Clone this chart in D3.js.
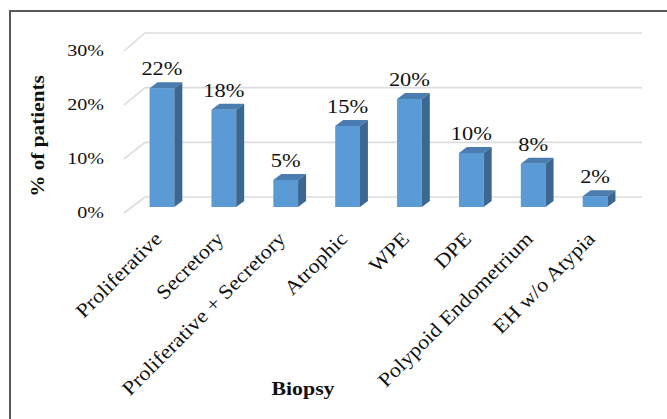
<!DOCTYPE html>
<html>
<head>
<meta charset="utf-8">
<script src="https://cdn.jsdelivr.net/npm/d3@7"></script>
<style>
  html, body { margin: 0; padding: 0; background: #fff; }
  svg { display: block; }
  text { font-family: "Liberation Serif", "Times New Roman", serif; fill: #111; }
</style>
</head>
<body>
<svg id="chart" width="667" height="419"></svg>
<script>
// Biopsy findings, share of patients
const categories = ["Proliferative", "Secretory", "Proliferative + Secretory", "Atrophic",
                    "WPE", "DPE", "Polypoid Endometrium", "EH w/o Atypia"];
const values = [0.22, 0.18, 0.05, 0.15, 0.20, 0.10, 0.08, 0.02];
const tickValues = [0, 0.10, 0.20, 0.30];
const yTitle = "% of patients";
const xTitle = "Biopsy";

const svg = d3.select("#chart");
const pct = d3.format(".0%");
const stretch = 1.18;            // glyphs are drawn slightly widened
const depth = { dx: 8, dy: -6 }; // bar extrusion

// Bars stand on the middle plane; the wall sits behind, the axis in front
const x = d3.scaleBand().domain(categories).range([131, 626])
  .paddingInner(0.6).paddingOuter(0.3);
const yBar = d3.scaleLinear().domain([0, 0.3]).range([207, 45]);
const yWall = d3.scaleLinear().domain([0, 0.3]).range([197, 33]);
const yFront = d3.scaleLinear().domain([0, 0.3]).range([213, 51]);
const wallLeft = 145, wallRight = 642, frontLeft = 124;

// Outer frame
svg.append("path")
  .attr("d", "M10,419 L10,11 L667,11")
  .attr("fill", "none").attr("stroke", "#5a5a5a").attr("stroke-width", 2);

// Back-wall gridlines and the floor-side diagonals
const grid = svg.append("g").attr("stroke", "#dcdcdc").attr("stroke-width", 1.6).attr("fill", "none");
grid.selectAll("line.back").data(tickValues).join("line")
  .attr("class", "back")
  .attr("x1", wallLeft).attr("x2", wallRight)
  .attr("y1", d => yWall(d)).attr("y2", d => yWall(d));
grid.selectAll("line.side").data(tickValues).join("line")
  .attr("class", "side")
  .attr("x1", wallLeft).attr("y1", d => yWall(d))
  .attr("x2", frontLeft).attr("y2", d => yFront(d));

// Value axis labels
const yAxis = d3.axisLeft(yFront).tickValues(tickValues).tickFormat(pct).tickSize(0).tickPadding(0);
const axisG = svg.append("g").attr("transform", "translate(104,-1.5)").call(yAxis);
axisG.select(".domain").remove();
axisG.selectAll("text")
  .attr("x", 0).attr("dy", null)
  .attr("dominant-baseline", "central")
  .attr("text-anchor", "end")
  .attr("transform", `scale(${stretch},1)`)
  .style("font-family", '"Liberation Serif", serif')
  .style("font-size", "17px").style("fill", "#111");

// 3D columns
const bars = svg.append("g").selectAll("g").data(values).join("g");
bars.each(function (v, i) {
  const g = d3.select(this);
  const x0 = x(categories[i]), w = x.bandwidth();
  const yt = yBar(v), yb = yBar(0);
  const { dx, dy } = depth;
  g.append("rect").attr("x", x0).attr("y", yt).attr("width", w).attr("height", yb - yt)
    .attr("fill", "#5b9bd5");
  g.append("path")
    .attr("d", `M${x0},${yt} L${x0 + dx},${yt + dy} L${x0 + w + dx},${yt + dy} L${x0 + w},${yt} Z`)
    .attr("fill", "#4a7cb0");
  g.append("path")
    .attr("d", `M${x0 + w},${yt} L${x0 + w + dx},${yt + dy} L${x0 + w + dx},${yb + dy} L${x0 + w},${yb} Z`)
    .attr("fill", "#3c6791");
});

// Value labels above each column
svg.append("g").selectAll("text").data(values).join("text")
  .attr("transform", (v, i) =>
    `translate(${x(categories[i]) + x.bandwidth() / 2},${yBar(v) - 20}) scale(${stretch},1)`)
  .attr("text-anchor", "middle")
  .attr("dominant-baseline", "central")
  .style("font-size", "19px")
  .text(v => pct(v));

// Category labels, rotated
svg.append("g").selectAll("text").data(categories).join("text")
  .attr("transform", d =>
    `translate(${x(d) + x.bandwidth() / 2 + 1},240) rotate(-45) scale(1.12,1)`)
  .attr("text-anchor", "end")
  .style("font-size", "20px")
  .text(d => d);

// Axis titles
svg.append("text")
  .attr("transform", `translate(37,136) rotate(-90) scale(1.12,1)`)
  .attr("text-anchor", "middle")
  .attr("dominant-baseline", "central")
  .style("font-size", "19px").style("font-weight", "bold")
  .text(yTitle);

svg.append("text")
  .attr("transform", `translate(303,389) scale(${stretch},1)`)
  .attr("text-anchor", "middle")
  .attr("dominant-baseline", "central")
  .style("font-size", "18.5px").style("font-weight", "bold")
  .text(xTitle);
</script>
</body>
</html>
